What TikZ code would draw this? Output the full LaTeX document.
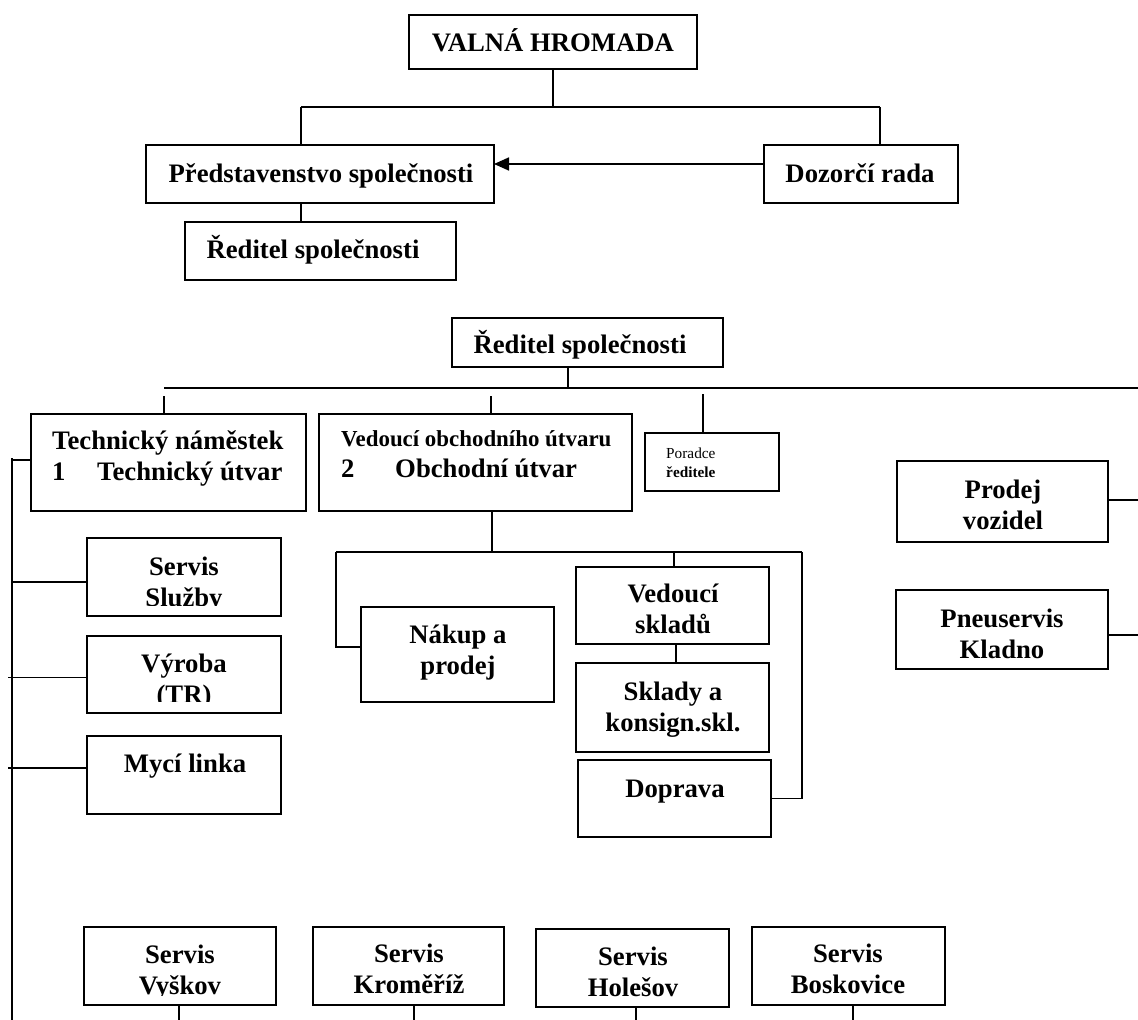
\documentclass[tikz,border=0pt]{standalone}
\usepackage{fontspec}
\setmainfont{Liberation Serif}
\usetikzlibrary{arrows.meta}
\begin{document}
\begin{tikzpicture}[x=1pt,y=-1pt,
  box/.style={draw, line width=2pt, inner sep=0pt, outer sep=0pt},
  conn/.style={line width=1.7pt},
  busl/.style={line width=2.5pt},
  big/.style={font=\fontsize{26.7pt}{31pt}\selectfont\bfseries, inner sep=0pt, align=center},
  bigl/.style={font=\fontsize{26.7pt}{31pt}\selectfont\bfseries, inner sep=0pt, align=left},
  midf/.style={font=\fontsize{22.9pt}{27pt}\selectfont\bfseries, inner sep=0pt},
  smallf/.style={font=\fontsize{15.3pt}{18pt}\selectfont, inner sep=0pt},
]
\useasboundingbox (0,0) rectangle (1138,1020);

% ---------- top part ----------
\node[box, minimum width=288pt, minimum height=54pt] (valna) at (553,42) {};
\node[big, anchor=base] (valnaT) at (553,51) {VALNÁ HROMADA};
\node[box, minimum width=348pt, minimum height=58pt] (pred) at (320,174) {};
\node[big, anchor=base] (predT) at (321,182) {Představenstvo společnosti};
\node[box, minimum width=194pt, minimum height=58pt] (dozor) at (861,174) {};
\node[big, anchor=base] (dozorT) at (860,182) {Dozorčí rada};
\node[box, minimum width=271pt, minimum height=58pt] (red1) at (320.5,251) {};
\node[big, anchor=base] (red1T) at (313,258) {Ředitel společnosti};

\coordinate (b1a) at (301,107);
\coordinate (b1b) at (880,107);
\draw[conn] (valna.south) -- (valna.south |- b1a);
\draw[busl] (b1a) -- (b1b);
\draw[conn] (b1a) -- (b1a |- pred.north);
\draw[conn] (b1b) -- (b1b |- dozor.north);
\draw[conn, -{Triangle[length=15pt,width=13pt]}] ([yshift=10pt]dozor.west) -- ([yshift=10pt]pred.east);
\draw[conn] (b1a |- pred.south) -- (b1a |- red1.north);

% ---------- second chart ----------
\node[box, minimum width=271pt, minimum height=49pt] (red2) at (587.5,342.5) {};
\node[big, anchor=base] (red2T) at (580,353) {Ředitel společnosti};
\coordinate (b2a) at (164,388);
\coordinate (b2b) at (1138,388);
\draw[conn] ([xshift=-19.5pt]red2.south) -- ([xshift=-19.5pt]red2.south |- b2a);
\draw[busl] (b2a) -- (b2b);

\node[box, minimum width=275pt, minimum height=97pt] (tech) at (168.5,462.5) {};
\node[bigl, anchor=west] (techT) at (52,458.8) {\strut Technický náměstek\\\strut 1\hspace{31.7pt}Technický útvar};
\node[box, minimum width=313pt, minimum height=97pt] (obch) at (475.5,462.5) {};
\node[midf, anchor=base west] (obchT1) at (341,446) {Vedoucí obchodního útvaru};
\node[big, anchor=base west] (obchT2) at (341,477) {2\hspace{40.7pt}Obchodní útvar};
\node[box, minimum width=134pt, minimum height=58pt] (por) at (712,462) {};
\node[smallf, anchor=base west] (porT1) at (666,458) {Poradce};
\node[smallf, anchor=base west] (porT2) at (666,477) {\bfseries ředitele};

\coordinate (d1) at (164,396);
\coordinate (d2) at (491,396);
\coordinate (d3) at (703,394);
\draw[conn] (d1) -- (d1 |- tech.north);
\draw[conn] (d2) -- (d2 |- obch.north);
\draw[conn] (d3) -- (d3 |- por.north);

% left column
\node[box, minimum width=194pt, minimum height=78pt] (sluz) at (184,577) {};
\begin{scope}
  \clip (87,538) rectangle (281,605.8);
  \node[big] (sluzT) at (184,584.3) {\strut Servis\\\strut Služby};
\end{scope}
\node[box, minimum width=194pt, minimum height=77pt] (vyr) at (184,674.5) {};
\begin{scope}
  \clip (87,636) rectangle (281,701);
  \node[big] (vyrT) at (184,681.3) {\strut Výroba\\\strut (TR)};
\end{scope}
\node[box, minimum width=194pt, minimum height=78pt] (myci) at (184,775) {};
\node[big, anchor=base] (myciT) at (185,772) {Mycí linka};

\coordinate (L1) at (12,458);
\coordinate (L2) at (12,1020);
\draw[conn] (L1) -- (L2);
\draw[conn] ([yshift=2.5pt]tech.west) -- ([yshift=2.5pt]tech.west -| L1);
\draw[conn] ([yshift=-5pt]sluz.west) -- ([yshift=-5pt]sluz.west -| L1);
\draw[conn] ([yshift=-3pt]vyr.west) -- ([yshift=-3pt,xshift=-4pt]vyr.west -| L1);
\draw[conn] ([yshift=7pt]myci.west) -- ([yshift=7pt,xshift=-4pt]myci.west -| L1);

% obchodni subtree
\node[box, minimum width=193pt, minimum height=95pt] (nakup) at (457.5,654.5) {};
\node[big] (nakupT) at (458,652.8) {\strut Nákup a\\\strut prodej};
\node[box, minimum width=193pt, minimum height=77pt] (vedsk) at (672.5,605.5) {};
\node[big] (vedskT) at (673,611.8) {\strut Vedoucí\\\strut skladů};
\node[box, minimum width=193pt, minimum height=89pt] (sklady) at (672.5,707.5) {};
\node[big] (skladyT) at (673,709.8) {\strut Sklady a\\\strut konsign.skl.};
\node[box, minimum width=193pt, minimum height=77pt] (doprava) at (674,798.5) {};
\node[big, anchor=base] (dopravaT) at (675,797) {Doprava};

\coordinate (b3a) at (336,552);
\coordinate (b3b) at (802,552);
\draw[conn] ([xshift=16.5pt]obch.south) -- ([xshift=16.5pt]obch.south |- b3a);
\draw[conn] (b3a) -- (b3b);
\draw[conn] (b3a) |- ([yshift=7.5pt]nakup.west);
\draw[conn] (b3b) |- (doprava.east);
\draw[conn] ([xshift=1.5pt]vedsk.north |- b3a) -- ([xshift=1.5pt]vedsk.north);
\draw[conn] ([xshift=3.5pt]vedsk.south) -- ([xshift=3.5pt]sklady.north);

% right boxes
\node[box, minimum width=211pt, minimum height=81pt] (prodej) at (1002.5,501.5) {};
\node[big] (prodejT) at (1003,507.8) {\strut Prodej\\\strut vozidel};
\node[box, minimum width=212pt, minimum height=79pt] (pneu) at (1002,629.5) {};
\node[big] (pneuT) at (1002,636.3) {\strut Pneuservis\\\strut Kladno};
\coordinate (R) at (1138,500);
\draw[conn] ([yshift=1.5pt]prodej.east) -- ([yshift=1.5pt]prodej.east -| R);
\draw[conn] ([yshift=-5.5pt]pneu.east) -- ([yshift=-5.5pt]pneu.east -| R);

% bottom servis boxes
\node[box, minimum width=192pt, minimum height=78pt] (vyskov) at (180,966) {};
\begin{scope}
  \clip (84,927) rectangle (276,995);
  \node[big] (vyskovT) at (180,972.3) {\strut Servis\\\strut Vyškov};
\end{scope}
\node[box, minimum width=191pt, minimum height=78pt] (krom) at (408.5,966) {};
\node[big] (kromT) at (409,971.3) {\strut Servis\\\strut Kroměříž};
\node[box, minimum width=193pt, minimum height=78pt] (holes) at (632.5,968) {};
\node[big] (holesT) at (633,974.8) {\strut Servis\\\strut Holešov};
\node[box, minimum width=193pt, minimum height=78pt] (bosk) at (848.5,966) {};
\node[big] (boskT) at (848,971.8) {\strut Servis\\\strut Boskovice};

\draw[conn] ([xshift=-1pt]vyskov.south) -- ([xshift=-1pt]vyskov.south |- L2);
\draw[conn] ([xshift=5.5pt]krom.south) -- ([xshift=5.5pt]krom.south |- L2);
\draw[conn] ([xshift=3.5pt]holes.south) -- ([xshift=3.5pt]holes.south |- L2);
\draw[conn] ([xshift=4.5pt]bosk.south) -- ([xshift=4.5pt]bosk.south |- L2);
\end{tikzpicture}
\end{document}
